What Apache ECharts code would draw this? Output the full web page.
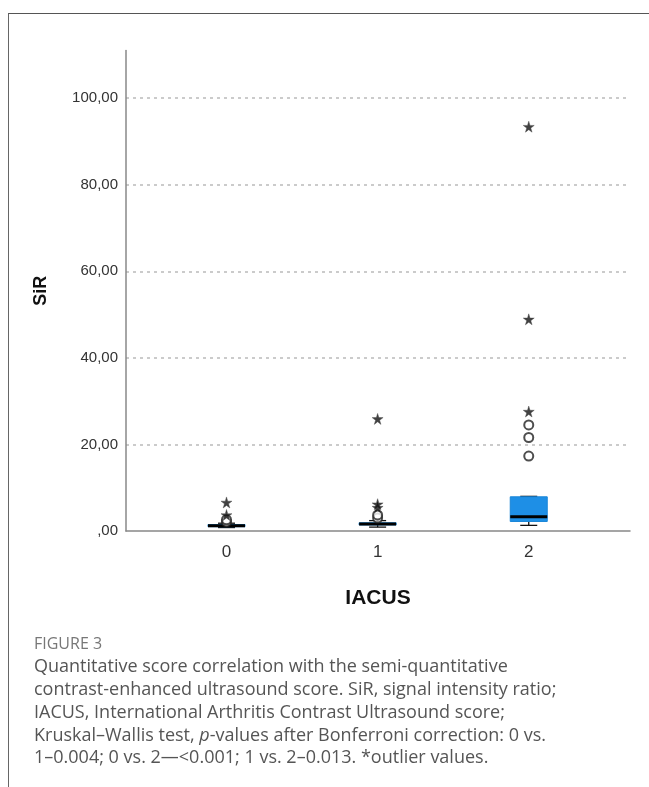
<!DOCTYPE html>
<html>
<head>
<meta charset="utf-8">
<script src="https://cdn.jsdelivr.net/npm/echarts@6.0.0/dist/echarts.min.js"></script>
<style>
  html, body { margin: 0; padding: 0; background: #fff; }
  #frame { position: absolute; left: 8px; top: 13px; width: 660px; height: 800px;
           border-top: 1.5px solid #555; border-left: 1.5px solid #666; }
  #chart { position: absolute; left: 0; top: 0; width: 649px; height: 787px; }
</style>
</head>
<body>
<div id="frame"></div>
<div id="chart"></div>
<script>
// IACUS groups
const groups = [0, 1, 2]
// box stats per group: min, Q1, median, Q3, max
const boxStats = [
  [0.8, 1.0, 1.2, 1.5, 1.8],
  [0.9, 1.4, 1.6, 1.9, 2.4],
  [1.3, 2.2, 3.3, 7.9, 8.0]
]
// outliers (circles) and extreme values (stars)
const outlierGroup = [0, 0, 1, 1, 2, 2, 2]
const outlierValue = [2.1, 2.6, 3.0, 3.7, 17.3, 21.6, 24.5]
const extremeGroup = [0, 0, 1, 1, 1, 2, 2, 2]
const extremeValue = [3.7, 6.6, 5.4, 6.2, 25.9, 27.6, 48.9, 93.4]
const yTicks = [0, 20, 40, 60, 80, 100]

const captionLines = [
  'Quantitative score correlation with the semi-quantitative',
  'contrast-enhanced ultrasound score. SiR, signal intensity ratio;',
  'IACUS, International Arthritis Contrast Ultrasound score;',
  'Kruskal\u2013Wallis test, {i|p}-values after Bonferroni correction: 0 vs.',
  '1\u20130.004; 0 vs. 2\u2014<0.001; 1 vs. 2\u20130.013. *outlier values.'
]

const starPath = 'path://M50,0 L61,35 L98,35 L68,57 L79,91 L50,70 L21,91 L32,57 L2,35 L39,35 Z'

const chart = echarts.init(document.getElementById('chart'))

const boxData = groups.map((g, i) => [g].concat(boxStats[i]))

chart.setOption({
  animation: false,
  title: [
    {
      text: 'FIGURE 3',
      left: 34, top: 636, padding: 0,
      textStyle: { fontFamily: 'Open Sans', fontSize: 16, fontWeight: 'normal', color: '#777' }
    },
    {
      text: captionLines.join('\n'),
      left: 34, top: 656, padding: 0,
      textStyle: {
        fontFamily: 'Open Sans', fontSize: 18, fontWeight: 'normal', color: '#555', lineHeight: 22.7,
        rich: { i: { fontStyle: 'italic', fontFamily: 'Open Sans', fontSize: 18, color: '#555', lineHeight: 22.7 } }
      }
    }
  ],
  grid: { left: 126, top: 50.5, right: 19, bottom: 256 },
  xAxis: {
    type: 'value',
    min: -0.665,
    max: 2.67,
    name: 'IACUS',
    nameLocation: 'middle',
    nameGap: 57,
    nameTextStyle: { fontFamily: 'Liberation Sans', fontSize: 21, fontWeight: 'bold', color: '#111' },
    axisLine: { onZero: false, lineStyle: { color: '#888', width: 1.5 } },
    axisTick: { show: false },
    splitLine: { show: false },
    axisLabel: {
      customValues: groups,
      formatter: (v) => String(v),
      fontFamily: 'Liberation Sans', fontSize: 17, color: '#333', margin: 13
    }
  },
  yAxis: {
    type: 'value',
    min: 0,
    max: 111,
    name: 'SiR',
    nameLocation: 'middle',
    nameRotate: 90,
    nameGap: 76,
    nameTextStyle: { fontFamily: 'Liberation Sans', fontSize: 18, fontWeight: 'bold', color: '#111' },
    axisLine: { show: true, onZero: false, lineStyle: { color: '#888', width: 1.5 } },
    axisTick: { show: false },
    axisLabel: {
      customValues: yTicks,
      formatter: (v) => v === 0 ? ',00' : v.toFixed(2).replace('.', ','),
      fontFamily: 'Liberation Sans', fontSize: 15, color: '#333', margin: 8
    },
    splitLine: {
      show: true, showMinLine: false, showMaxLine: false,
      lineStyle: { color: '#bbb', type: [3, 4], width: 1.5 }
    },
    interval: 20
  },
  series: [
    {
      type: 'custom',
      data: boxData,
      encode: { x: 0, y: [1, 2, 3, 4, 5] },
      renderItem: (params, api) => {
        const x = api.value(0)
        const pMin = api.coord([x, api.value(1)])
        const pQ1 = api.coord([x, api.value(2)])
        const pMed = api.coord([x, api.value(3)])
        const pQ3 = api.coord([x, api.value(4)])
        const pMax = api.coord([x, api.value(5)])
        const half = 18.5
        const cap = 8.5
        const black = { stroke: '#111', lineWidth: 1.3 }
        return {
          type: 'group',
          children: [
            { type: 'line', shape: { x1: pMin[0], y1: pMin[1], x2: pQ1[0], y2: pQ1[1] }, style: black },
            { type: 'line', shape: { x1: pQ3[0], y1: pQ3[1], x2: pMax[0], y2: pMax[1] }, style: black },
            { type: 'line', shape: { x1: pMin[0] - cap, y1: pMin[1], x2: pMin[0] + cap, y2: pMin[1] }, style: black },
            { type: 'line', shape: { x1: pMax[0] - cap, y1: pMax[1], x2: pMax[0] + cap, y2: pMax[1] }, style: black },
            {
              type: 'rect',
              shape: { x: pQ1[0] - half, y: pQ3[1], width: half * 2, height: Math.max(pQ1[1] - pQ3[1], 1) },
              style: { fill: '#1e8fe6', stroke: '#1a86d8', lineWidth: 1 }
            },
            { type: 'line', shape: { x1: pMed[0] - half, y1: pMed[1], x2: pMed[0] + half, y2: pMed[1] }, style: { stroke: '#000', lineWidth: 3 } }
          ]
        }
      },
      z: 2
    },
    {
      type: 'scatter',
      data: outlierGroup.map((g, i) => [g, outlierValue[i]]),
      symbol: 'emptyCircle',
      symbolSize: 9,
      itemStyle: { color: '#222', borderWidth: 1.3 },
      z: 3
    },
    {
      type: 'scatter',
      data: extremeGroup.map((g, i) => [g, extremeValue[i]]),
      symbol: starPath,
      symbolSize: 11,
      itemStyle: { color: '#111', borderColor: '#444', borderWidth: 0.5 },
      z: 4
    }
  ]
})
</script>
</body>
</html>
